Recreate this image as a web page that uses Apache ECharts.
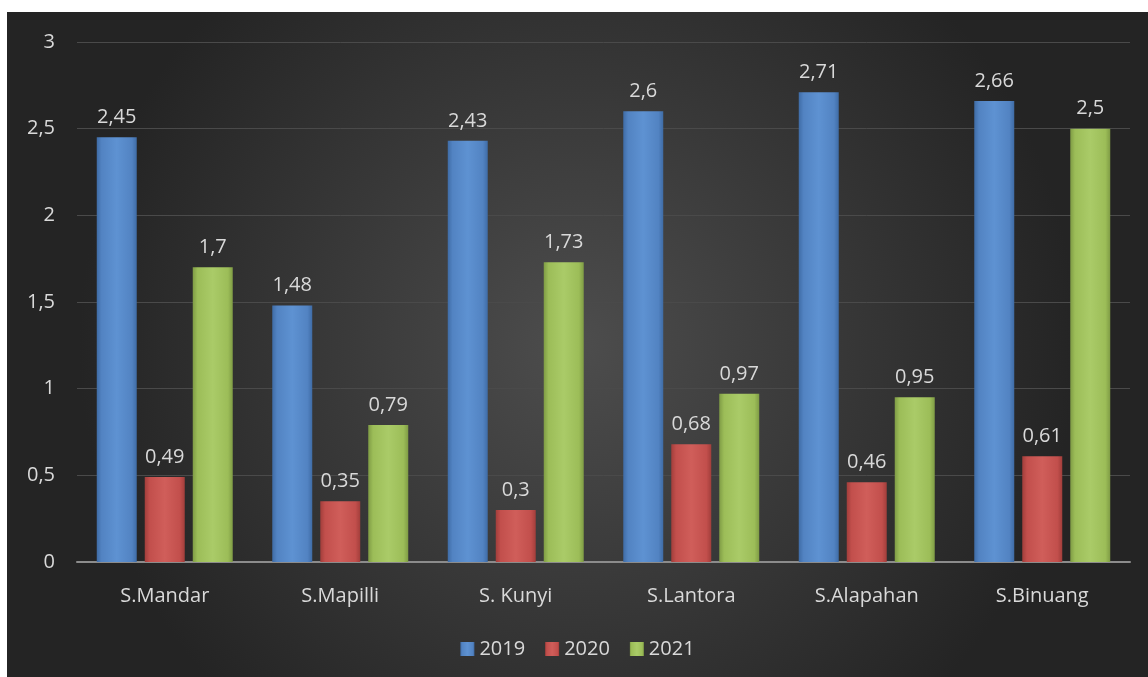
<!DOCTYPE html>
<html>
<head>
<meta charset="utf-8">
<script src="https://cdn.jsdelivr.net/npm/echarts@6/dist/echarts.min.js"></script>
<style>
  html, body { margin: 0; padding: 0; background: #ffffff; }
  #chart { position: absolute; left: 7px; top: 12px; width: 1141px; height: 665px; }
</style>
</head>
<body>
<div id="chart"></div>
<script>
// data
const categories = ["S.Mandar", "S.Mapilli", "S. Kunyi", "S.Lantora", "S.Alapahan", "S.Binuang"];
const v2019 = [2.45, 1.48, 2.43, 2.6, 2.71, 2.66];
const v2020 = [0.49, 0.35, 0.3, 0.68, 0.46, 0.61];
const v2021 = [1.7, 0.79, 1.73, 0.97, 0.95, 2.5];
const seriesNames = ["2019", "2020", "2021"];

const fontFam = "'Open Sans', sans-serif";
const fontSz = 20;
const comma = (v) => String(v).replace(".", ",");

// horizontal gradient to fake the bevelled bars
function barColor(dark, mid, light) {
  return {
    type: "linear", x: 0, y: 0, x2: 1, y2: 0,
    colorStops: [
      { offset: 0, color: dark },
      { offset: 0.12, color: mid },
      { offset: 0.5, color: light },
      { offset: 0.88, color: mid },
      { offset: 1, color: dark },
    ],
  };
}

const colors = [
  barColor("#3f6ca6", "#5283c2", "#5e92d2"),
  barColor("#a23e3b", "#c24f4c", "#d05e5a"),
  barColor("#7f9c45", "#9cbd58", "#aacb68"),
];

function makeSeries(name, data, idx) {
  return {
    name: name,
    type: "bar",
    data: data,
    barWidth: 40,
    barGap: "20%",
    itemStyle: { color: colors[idx] },
    label: {
      show: true,
      position: "top",
      distance: 10,
      color: "#d9d9d9",
      fontSize: fontSz,
      fontFamily: fontFam,
      formatter: (p) => comma(p.value),
    },
  };
}

const myChart = echarts.init(document.getElementById("chart"));
const option = {
  backgroundColor: {
    type: "radial", x: 0.5, y: 0.5, r: 0.75,
    colorStops: [
      { offset: 0, color: "#4d4d4d" },
      { offset: 1, color: "#242424" },
    ],
  },
  color: ["#4f81bd", "#c0504d", "#9bbb59"],
  grid: { left: 70, right: 18, top: 30, bottom: 115 },
  legend: {
    data: seriesNames,
    top: 622,
    left: "center",
    itemWidth: 14,
    itemHeight: 14,
    itemGap: 20,
    icon: "rect",
    textStyle: { color: "#d9d9d9", fontSize: fontSz, fontFamily: fontFam },
  },
  xAxis: {
    type: "category",
    data: categories,
    axisTick: { show: false },
    axisLine: { lineStyle: { color: "#8c8c8c", width: 2 } },
    axisLabel: { color: "#d9d9d9", fontSize: fontSz, fontFamily: fontFam, margin: 24 },
  },
  yAxis: {
    type: "value",
    min: 0,
    max: 3,
    interval: 0.5,
    axisLine: { show: false },
    axisTick: { show: false },
    splitLine: { lineStyle: { color: "#4a4a4a", width: 1 } },
    axisLabel: {
      color: "#d9d9d9", fontSize: fontSz, fontFamily: fontFam, margin: 22,
      formatter: (v) => comma(v),
    },
  },
  series: [
    makeSeries(seriesNames[0], v2019, 0),
    makeSeries(seriesNames[1], v2020, 1),
    makeSeries(seriesNames[2], v2021, 2),
  ],
};
myChart.setOption(option);
</script>
</body>
</html>
